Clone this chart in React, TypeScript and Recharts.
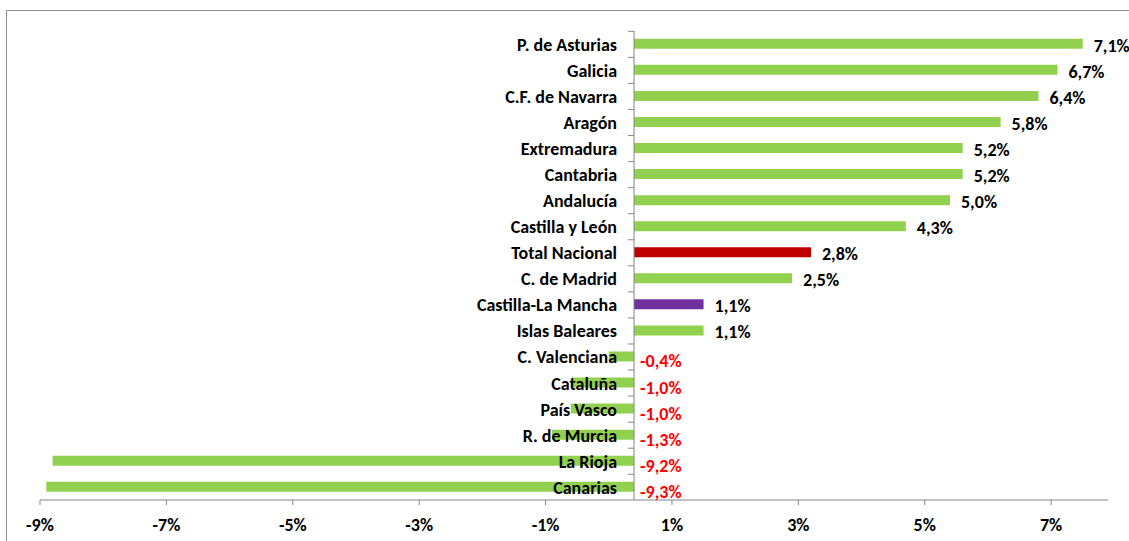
import React from 'react';
import { BarChart, Bar, Cell, XAxis, YAxis, ReferenceLine, LabelList } from 'recharts';

// Variación interanual por comunidad autónoma (%)
const regions = [
  'P. de Asturias',
  'Galicia',
  'C.F. de Navarra',
  'Aragón',
  'Extremadura',
  'Cantabria',
  'Andalucía',
  'Castilla y León',
  'Total Nacional',
  'C. de Madrid',
  'Castilla-La Mancha',
  'Islas Baleares',
  'C. Valenciana',
  'Cataluña',
  'País Vasco',
  'R. de Murcia',
  'La Rioja',
  'Canarias',
];
const growth = [7.1, 6.7, 6.4, 5.8, 5.2, 5.2, 5.0, 4.3, 2.8, 2.5, 1.1, 1.1, -0.4, -1.0, -1.0, -1.3, -9.2, -9.3];

// Excel axis: min -9.4, major unit 2, labels rounded to whole percent
const xTicks = [-9.4, -7.4, -5.4, -3.4, -1.4, 0.6, 2.6, 4.6, 6.6];
const xDomain: [number, number] = [-9.4, 7.5];

const GREEN = '#92D050';
const highlight: Record<string, string> = {
  'Total Nacional': '#C00000',
  'Castilla-La Mancha': '#7030A0',
};

const FONT = 'Calibri, Carlito, "Open Sans", Lato, sans-serif';
const FONT_SIZE = 18;
const AXIS_GREY = '#868686';
const CAT_GAP = 0.3;

const data = regions.map((name, i) => ({ name, value: growth[i] }));

const fmt = (v: number) => v.toFixed(1).replace('.', ',') + '%';

function BarLabels(props: any) {
  const vb = props.viewBox ?? props;
  const x = Number(vb.x);
  const y = Number(vb.y);
  const width = Number(vb.width);
  const height = Math.abs(Number(vb.height));
  const index = props.index as number;
  const v = growth[index];
  if (v === undefined || Number.isNaN(x)) return null;

  // where the bar starts (value 0) and where it ends
  const zero = v >= 0 ? x : width < 0 ? x : x + width;
  const end = v >= 0 ? x + width : zero;
  const cy = y + height / 2;
  const halfBand = height / (1 - 2 * CAT_GAP) / 2;

  return (
    <g>
      <line x1={zero - 6} x2={zero} y1={cy - halfBand} y2={cy - halfBand} stroke={AXIS_GREY} strokeWidth={1} />
      <text
        x={zero - 17}
        y={cy + 1}
        textAnchor="end"
        dominantBaseline="central"
        fontFamily={FONT}
        fontWeight={700}
        fontSize={FONT_SIZE}
        fill="#000"
      >
        {regions[index]}
      </text>
      <text
        x={v >= 0 ? end + 11 : zero + 6}
        y={v >= 0 ? cy + 2 : cy + 5}
        textAnchor="start"
        dominantBaseline="central"
        fontFamily={FONT}
        fontWeight={700}
        fontSize={FONT_SIZE}
        fill={v >= 0 ? '#000' : '#FF0000'}
      >
        {fmt(v)}
      </text>
    </g>
  );
}

export default function App() {
  return (
    <div
      style={{
        position: 'fixed',
        left: 0,
        top: 0,
        width: 1129,
        height: 541,
        overflow: 'hidden',
        background: '#fff',
      }}
    >
      <div
        style={{
          position: 'absolute',
          left: 6,
          top: 10,
          width: 1200,
          height: 600,
          border: '1px solid #8E8E8E',
          boxSizing: 'border-box',
        }}
      />
      <div style={{ position: 'absolute', left: 0, top: 0 }}>
        <BarChart
          width={1129}
          height={541}
          data={data}
          layout="vertical"
          margin={{ top: 31, right: 21, bottom: 11, left: 40 }}
          barCategoryGap={`${CAT_GAP * 100}%`}
        >
          <XAxis
            type="number"
            domain={xDomain}
            ticks={xTicks}
            allowDataOverflow
            height={30}
            tickFormatter={(t: number) => `${Math.round(t)}%`}
            axisLine={{ stroke: AXIS_GREY }}
            tickLine={{ stroke: AXIS_GREY }}
            tickSize={5}
            tickMargin={13}
            tick={{ fontFamily: FONT, fontWeight: 700, fontSize: FONT_SIZE, fill: '#000' }}
          />
          <YAxis type="category" dataKey="name" hide />
          <ReferenceLine x={0} stroke={AXIS_GREY} strokeWidth={1} ifOverflow="extendDomain" />
          <Bar dataKey="value" isAnimationActive={false}>
            {data.map((d) => (
              <Cell key={d.name} fill={highlight[d.name] ?? GREEN} />
            ))}
            <LabelList dataKey="value" content={BarLabels} />
          </Bar>
        </BarChart>
      </div>
    </div>
  );
}
